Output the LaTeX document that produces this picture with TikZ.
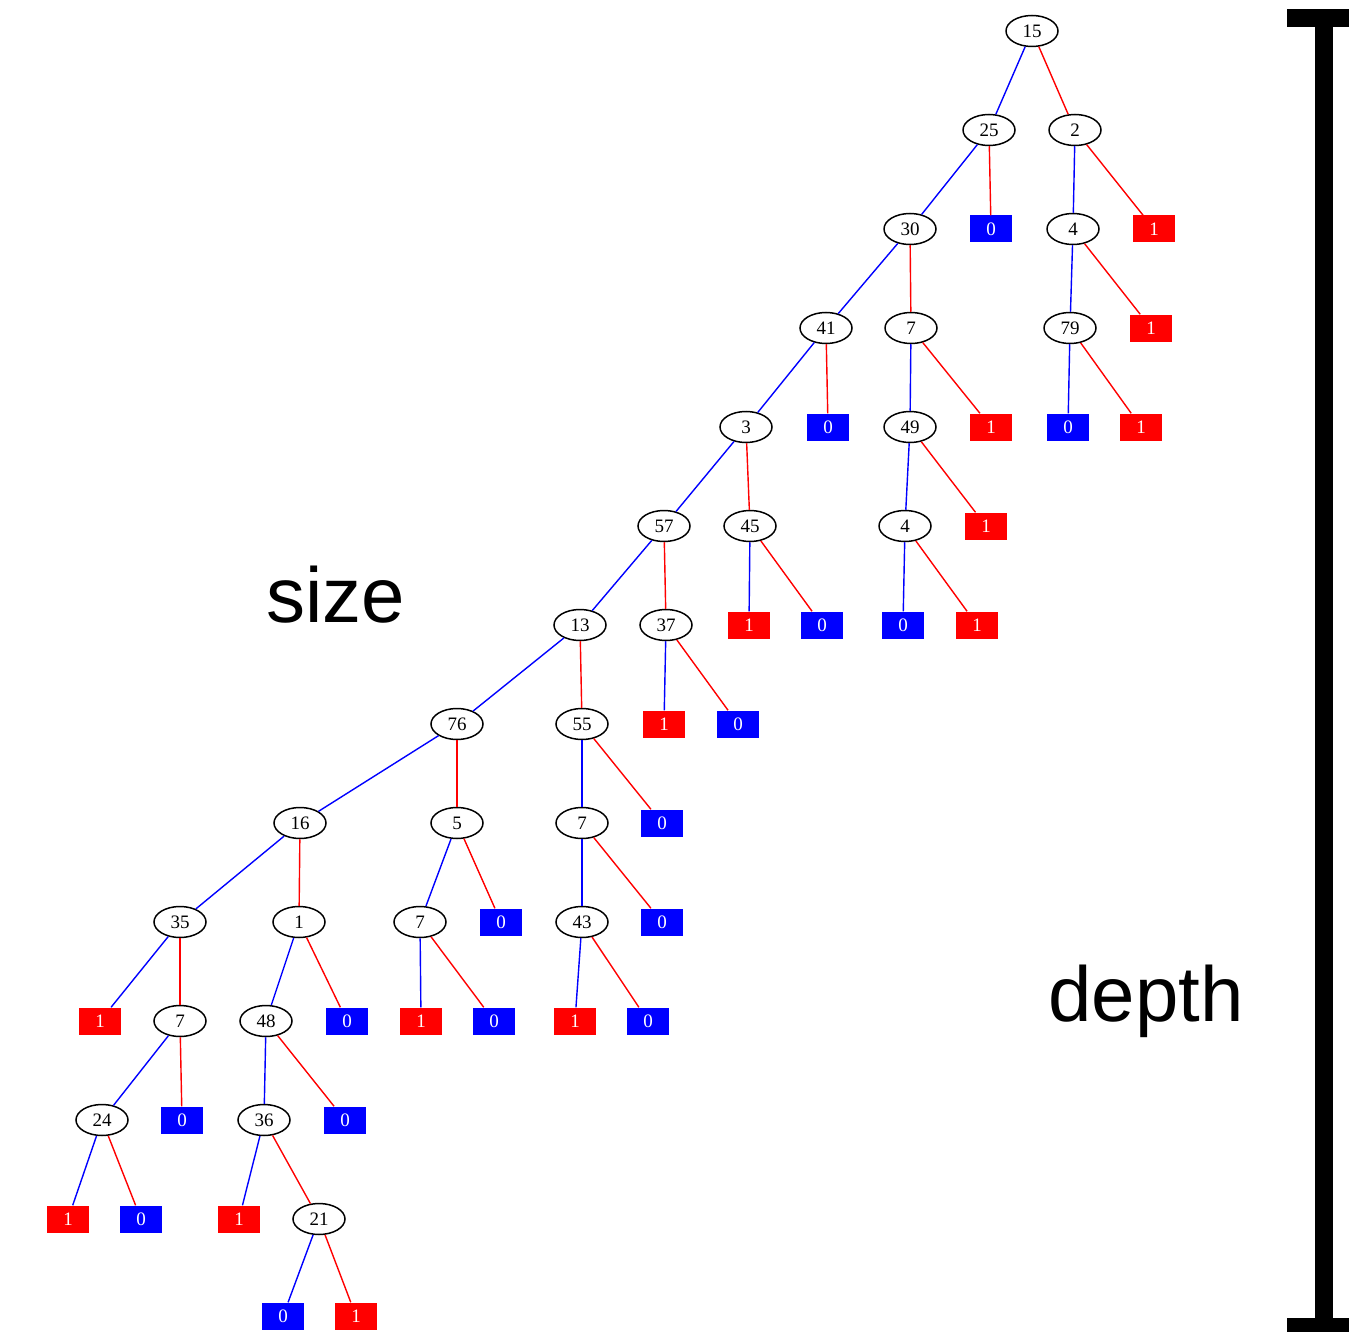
\documentclass[tikz,border=0pt]{standalone}
\usepackage{fontspec}
\setmainfont{Liberation Serif}
\newfontfamily\labelfont{Liberation Sans}
\usetikzlibrary{shapes.geometric}
\definecolor{lowblue}{RGB}{0,0,255}
\definecolor{highred}{RGB}{255,0,0}
\tikzset{
  inner/.style={draw=black, line width=1.5pt, ellipse, minimum width=52pt, minimum height=31pt,
    inner sep=0pt, fill=white, font=\fontsize{19}{19}\selectfont},
  zeroleaf/.style={rectangle, fill=lowblue, minimum width=42pt, minimum height=27pt, inner sep=0pt,
    text=white, font=\fontsize{19}{19}\selectfont},
  oneleaf/.style={zeroleaf, fill=highred},
  lo/.style={draw=lowblue, line width=1.4pt},
  hi/.style={draw=highred, line width=1.4pt},
  bigword/.style={font=\labelfont\fontsize{78}{78}\selectfont, anchor=base, inner sep=0pt},
  bar/.style={fill=black}
}
\begin{document}
\begin{tikzpicture}[x=1pt, y=-1pt]
\useasboundingbox (0,0) rectangle (1349,1332);
% decision nodes
\node[inner] (a15) at (1032,31) {15};
\node[inner] (a25) at (989,130) {25};
\node[inner] (a2)  at (1075,130) {2};
\node[inner] (a30) at (910,229) {30};
\node[inner] (a4)  at (1073,229) {4};
\node[inner] (a41) at (826,328) {41};
\node[inner] (a7)  at (911,328) {7};
\node[inner] (a79) at (1070,328) {79};
\node[inner] (a3)  at (746,427) {3};
\node[inner] (a49) at (910,427) {49};
\node[inner] (a57) at (664,526) {57};
\node[inner] (a45) at (750,526) {45};
\node[inner] (a4b) at (905,526) {4};
\node[inner] (a13) at (580,625) {13};
\node[inner] (a37) at (666,625) {37};
\node[inner] (a76) at (457,724) {76};
\node[inner] (a55) at (582,724) {55};
\node[inner] (a16) at (300,823) {16};
\node[inner] (a5)  at (457,823) {5};
\node[inner] (a7b) at (582,823) {7};
\node[inner] (a35) at (180,922) {35};
\node[inner] (a1)  at (299,922) {1};
\node[inner] (a7c) at (420,922) {7};
\node[inner] (a43) at (582,922) {43};
\node[inner] (a7d) at (180,1021) {7};
\node[inner] (a48) at (266,1021) {48};
\node[inner] (a24) at (102,1120) {24};
\node[inner] (a36) at (264,1120) {36};
\node[inner] (a21) at (319,1219) {21};
% terminal nodes
\node[zeroleaf] (z1)  at (991,229) {0};
\node[oneleaf]  (z2)  at (1154,229) {1};
\node[oneleaf]  (z3)  at (1151,328) {1};
\node[zeroleaf] (z4)  at (828,427) {0};
\node[oneleaf]  (z5)  at (991,427) {1};
\node[zeroleaf] (z6)  at (1068,427) {0};
\node[oneleaf]  (z7)  at (1141,427) {1};
\node[oneleaf]  (z8)  at (986,526) {1};
\node[oneleaf]  (z9)  at (749,625) {1};
\node[zeroleaf] (z10) at (822,625) {0};
\node[zeroleaf] (z11) at (903,625) {0};
\node[oneleaf]  (z12) at (977,625) {1};
\node[oneleaf]  (z13) at (664,724) {1};
\node[zeroleaf] (z14) at (738,724) {0};
\node[zeroleaf] (z15) at (662,823) {0};
\node[zeroleaf] (z16) at (501,922) {0};
\node[zeroleaf] (z17) at (662,922) {0};
\node[oneleaf]  (z18) at (100,1021) {1};
\node[zeroleaf] (z19) at (347,1021) {0};
\node[oneleaf]  (z20) at (421,1021) {1};
\node[zeroleaf] (z21) at (494,1021) {0};
\node[oneleaf]  (z22) at (575,1021) {1};
\node[zeroleaf] (z23) at (648,1021) {0};
\node[zeroleaf] (z24) at (182,1120) {0};
\node[zeroleaf] (z25) at (345,1120) {0};
\node[oneleaf]  (z26) at (68,1219) {1};
\node[zeroleaf] (z27) at (141,1219) {0};
\node[oneleaf]  (z28) at (239,1219) {1};
\node[zeroleaf] (z29) at (283,1316) {0};
\node[oneleaf]  (z30) at (356,1316) {1};
% low (blue) and high (red) branches
\draw[lo] (a15) -- (a25);  \draw[hi] (a15) -- (a2);
\draw[lo] (a25) -- (a30);  \draw[hi] (a25) -- (z1);
\draw[lo] (a2)  -- (a4);   \draw[hi] (a2)  -- (z2);
\draw[lo] (a30) -- (a41);  \draw[hi] (a30) -- (a7);
\draw[lo] (a4)  -- (a79);  \draw[hi] (a4)  -- (z3);
\draw[lo] (a41) -- (a3);   \draw[hi] (a41) -- (z4);
\draw[lo] (a7)  -- (a49);  \draw[hi] (a7)  -- (z5);
\draw[lo] (a79) -- (z6);   \draw[hi] (a79) -- (z7);
\draw[lo] (a3)  -- (a57);  \draw[hi] (a3)  -- (a45);
\draw[lo] (a49) -- (a4b);  \draw[hi] (a49) -- (z8);
\draw[lo] (a57) -- (a13);  \draw[hi] (a57) -- (a37);
\draw[lo] (a45) -- (z9);   \draw[hi] (a45) -- (z10);
\draw[lo] (a4b) -- (z11);  \draw[hi] (a4b) -- (z12);
\draw[lo] (a13) -- (a76);  \draw[hi] (a13) -- (a55);
\draw[lo] (a37) -- (z13);  \draw[hi] (a37) -- (z14);
\draw[lo] (a76) -- (a16);  \draw[hi] (a76) -- (a5);
\draw[lo] (a55) -- (a7b);  \draw[hi] (a55) -- (z15);
\draw[lo] (a16) -- (a35);  \draw[hi] (a16) -- (a1);
\draw[lo] (a5)  -- (a7c);  \draw[hi] (a5)  -- (z16);
\draw[lo] (a7b) -- (a43);  \draw[hi] (a7b) -- (z17);
\draw[lo] (a35) -- (z18);  \draw[hi] (a35) -- (a7d);
\draw[lo] (a1)  -- (a48);  \draw[hi] (a1)  -- (z19);
\draw[lo] (a7c) -- (z20);  \draw[hi] (a7c) -- (z21);
\draw[lo] (a43) -- (z22);  \draw[hi] (a43) -- (z23);
\draw[lo] (a7d) -- (a24);  \draw[hi] (a7d) -- (z24);
\draw[lo] (a48) -- (a36);  \draw[hi] (a48) -- (z25);
\draw[lo] (a24) -- (z26);  \draw[hi] (a24) -- (z27);
\draw[lo] (a36) -- (z28);  \draw[hi] (a36) -- (a21);
\draw[lo] (a21) -- (z29);  \draw[hi] (a21) -- (z30);
% annotations
\node[bigword] (sizeword) at (336,622) {size};
\node[bigword] (depthword) at (1146,1021) {depth};
% depth bracket
\fill[bar] (1287,9) rectangle (1349,27);
\fill[bar] (1315,9) rectangle (1333,1332);
\fill[bar] (1287,1318) rectangle (1349,1332);
\end{tikzpicture}
\end{document}
